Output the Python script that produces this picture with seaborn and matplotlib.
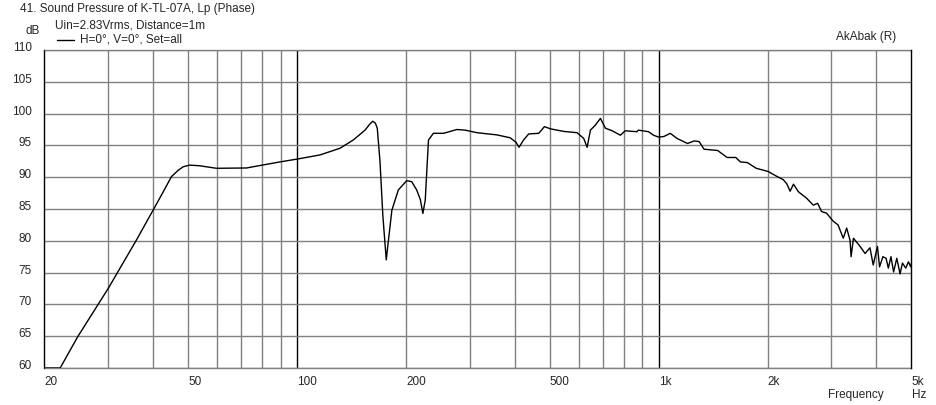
import matplotlib
matplotlib.use("Agg")
import matplotlib.pyplot as plt
import seaborn as sns
import pandas as pd
import numpy as np

# ---- data ----
freq_hz = [20, 22.1, 24.7, 30.0, 35.9, 40.1, 42.6, 44.9, 46.9, 48.4, 50.4, 53.7, 59.8, 72.4,
           89.5, 100, 115.6, 131.3, 142.9, 154, 158.5, 161.8, 164.5, 166.5, 169.4, 172.5,
           176.3, 178.8, 182.7, 190.4, 200.8, 207.3, 214, 219, 222.6, 226, 228.5, 230.7,
           238, 254, 276.5, 291.3, 314, 357, 387.9, 402.8, 410.6, 422.7, 436.7, 465.7,
           482.6, 501.9, 546, 594, 620, 633.6, 647, 668, 689.6, 712, 743, 783, 808, 869,
           879, 937, 967, 1000, 1033, 1076, 1123, 1201, 1253, 1293, 1334, 1455, 1545,
           1633, 1682, 1758, 1860, 2008, 2094, 2210, 2258, 2308, 2358, 2434, 2563, 2675,
           2750, 2820, 2910, 3035, 3132, 3238, 3309, 3380, 3403, 3455, 3606, 3720, 3838,
           3918, 4025, 4080, 4167, 4253, 4314, 4387, 4461, 4553, 4649, 4720, 4820, 4903,
           4975, 5000]
spl_db = [60, 60, 64.9, 72.5, 80.1, 85.0, 87.7, 90.1, 91.1, 91.65, 91.9, 91.8, 91.4, 91.45,
          92.4, 92.85, 93.5, 94.55, 95.85, 97.4, 98.3, 98.8, 98.5, 97.7, 92.5, 84.0,
          77.0, 80.1, 84.8, 88.0, 89.45, 89.3, 88.0, 86.5, 84.3, 86.4, 91.5, 95.85,
          96.9, 96.9, 97.5, 97.4, 97.0, 96.65, 96.2, 95.5, 94.7, 95.85, 96.8, 96.9,
          97.95, 97.6, 97.2, 97.0, 96.1, 94.7, 97.4, 98.2, 99.25, 97.7, 97.3, 96.6,
          97.3, 97.15, 97.4, 97.15, 96.6, 96.3, 96.4, 96.9, 96.1, 95.3, 95.7, 95.6,
          94.4, 94.2, 93.1, 93.1, 92.4, 92.3, 91.4, 90.9, 90.3, 89.6, 89.0, 87.8, 88.9,
          87.7, 86.7, 85.6, 85.9, 84.6, 84.35, 83.1, 82.5, 80.4, 82.0, 80.1, 77.5,
          80.4, 79.1, 78.0, 78.9, 76.2, 79.1, 75.9, 77.5, 77.25, 75.7, 77.5, 75.1,
          77.25, 74.8, 76.5, 75.7, 76.7, 75.9, 76.5]

x_tick_values = [20, 50, 100, 200, 500, 1000, 2000, 5000]
x_tick_labels = ["20", "50", "100", "200", "500", "1k", "2k", "5k"]
y_tick_values = list(range(60, 111, 5))

title_text = "41. Sound Pressure of K-TL-07A, Lp (Phase)"
subtitle_text = "Uin=2.83Vrms, Distance=1m"
legend_text = "H=0°, V=0°, Set=all"

df = pd.DataFrame({"Frequency": freq_hz, "SPL": spl_db})

sns.set_theme(style="white")
plt.rcParams["font.family"] = ["Liberation Sans", "DejaVu Sans"]
plt.rcParams["font.size"] = 8.5

fig = plt.figure(figsize=(9.37, 4.05), dpi=100)
ax = fig.add_axes([44.5 / 937, (405 - 368) / 405, (911.5 - 44.5) / 937, (368 - 50) / 405])

grid_gray = "#808080"
minor_freqs = [30, 40, 50, 60, 70, 80, 90, 200, 300, 400, 500, 600, 700, 800, 900,
               2000, 3000, 4000]
for f in minor_freqs:
    ax.axvline(f, color=grid_gray, lw=1.0, zorder=1)
for f in [100, 1000]:
    ax.axvline(f, color="black", lw=1.0, zorder=1)
for y in y_tick_values:
    ax.axhline(y, color=grid_gray, lw=1.0, zorder=1)

sns.lineplot(data=df, x="Frequency", y="SPL", ax=ax, color="black", lw=1.0,
             zorder=3, legend=False)

ax.set_xscale("log")
ax.set_xlim(20, 5000)
ax.set_ylim(60, 110)
ax.set_xlabel("")
ax.set_ylabel("")

ax.set_xticks(x_tick_values)
ax.set_xticklabels(x_tick_labels, ha="left")
ax.xaxis.set_minor_locator(matplotlib.ticker.NullLocator())
ax.set_yticks(y_tick_values)
ax.set_yticklabels([str(v) for v in y_tick_values])
ax.tick_params(axis="x", length=3, width=1, color="black", pad=3, labelsize=8.5)
ax.tick_params(axis="y", length=4, width=1, color="black", pad=5, labelsize=8.5)
offset = matplotlib.transforms.ScaledTranslation(0, 2 / 100, fig.dpi_scale_trans)
for lab in ax.get_yticklabels():
    lab.set_verticalalignment("center")
    lab.set_transform(lab.get_transform() + offset)

for side in ["left", "right"]:
    ax.spines[side].set_color("black")
    ax.spines[side].set_linewidth(1.0)
for side in ["top", "bottom"]:
    ax.spines[side].set_color(grid_gray)
    ax.spines[side].set_linewidth(1.0)
ax.spines["right"].set_zorder(4)

# texts
fig.text(20 / 937, 1 - 9 / 405, title_text, fontsize=8.5, va="center", ha="left")
fig.text(55 / 937, 1 - 25 / 405, subtitle_text, fontsize=8.5, va="center", ha="left")
fig.text(25 / 937, 1 - 31 / 405, "dB", fontsize=8.5, va="center", ha="left")
fig.add_artist(matplotlib.lines.Line2D([57 / 937, 74 / 937], [1 - 40 / 405, 1 - 40 / 405],
                                       color="black", lw=1.0))
fig.text(80 / 937, 1 - 40 / 405, legend_text, fontsize=8.5, va="center", ha="left")
fig.text(896 / 937, 1 - 37 / 405, "AkAbak (R)", fontsize=8.5, va="center", ha="right")
fig.text(884 / 937, 1 - 395 / 405, "Frequency", fontsize=8.5, va="center", ha="right")
fig.text(912 / 937, 1 - 395 / 405, "Hz", fontsize=8.5, va="center", ha="left")

fig.savefig("out.png", dpi=100, facecolor="white")
